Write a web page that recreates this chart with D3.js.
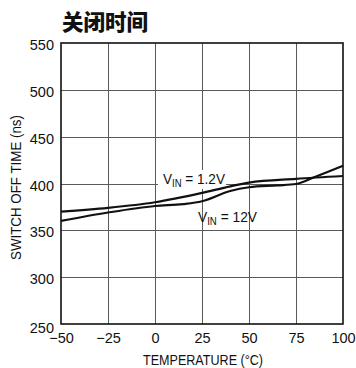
<!DOCTYPE html>
<html>
<head>
<meta charset="utf-8">
<script src="https://cdn.jsdelivr.net/npm/d3@7"></script>
<style>
  html, body { margin: 0; padding: 0; background: #fff; }
  svg { display: block; }
  text { font-family: "Liberation Sans", Arial, sans-serif; fill: #111; }
</style>
</head>
<body>
<script>
// Switch-off time versus temperature for two input voltages
const xTicks = [-50, -25, 0, 25, 50, 75, 100];
const yTicks = [250, 300, 350, 400, 450, 500, 550];

const temp12 = [-50, -25, 0, 25, 40, 50, 75, 100];
const vin12 = [370, 374, 380, 390, 397, 401, 405, 408];                // VIN = 1.2V

const temp120 = [-50, -25, 0, 15, 25, 40, 50, 65, 75, 85, 100];
const vin120 = [360, 369, 376, 378, 381, 392, 396, 398, 399.5, 407, 419]; // VIN = 12V

const W = 356, H = 368;
const m = { left: 61, right: 13, top: 43, bottom: 44 };

const svg = d3.select("body").append("svg").attr("width", W).attr("height", H);

const x = d3.scaleLinear().domain([-50, 100]).range([m.left, W - m.right]);
const y = d3.scaleLinear().domain([250, 550]).range([H - m.bottom, m.top]);

// title
svg.append("text")
  .attr("x", m.left + 1).attr("y", 30)
  .style("font-family", "'Noto Sans CJK SC', sans-serif")
  .style("font-weight", 900)
  .style("font-size", "21.5px")
  .text("关闭时间");

// grid
const grid = svg.append("g").attr("stroke", "#5a5a5a").attr("stroke-width", 1);
grid.selectAll("line.v").data(xTicks.slice(1, -1)).join("line")
  .attr("x1", d => Math.round(x(d)) + 0.5).attr("x2", d => Math.round(x(d)) + 0.5)
  .attr("y1", y(250)).attr("y2", y(550));
grid.selectAll("line.h").data(yTicks.slice(1, -1)).join("line")
  .attr("y1", d => Math.round(y(d)) + 0.5).attr("y2", d => Math.round(y(d)) + 0.5)
  .attr("x1", x(-50)).attr("x2", x(100));

// axes tick labels via d3 axes
const xAxis = svg.append("g")
  .attr("transform", `translate(0,${y(250)})`)
  .call(d3.axisBottom(x).tickValues(xTicks).tickSize(0).tickPadding(9)
    .tickFormat(d => d < 0 ? "\u2212" + Math.abs(d) : d));
const yAxis = svg.append("g")
  .attr("transform", `translate(${x(-50)},0)`)
  .call(d3.axisLeft(y).tickValues(yTicks).tickSize(0).tickPadding(7));
[xAxis, yAxis].forEach(g => {
  g.select(".domain").remove();
  g.selectAll("text").style("font-size", "14.5px")
    .style("font-family", "'Liberation Sans', Arial, sans-serif").attr("fill", "#111");
});
yAxis.selectAll("text").attr("dy", "0.45em");
yAxis.selectAll(".tick").filter(d => d === 250).select("text").attr("dy", "0.6em");

// curve labels (backgrounds sit under the curves, over the grid)
const labelLayer = svg.append("g");
function vinLabel(px, py, val, len, bg) {
  const g = labelLayer.append("g");
  const t = g.append("text").attr("x", px).attr("y", py).style("font-size", "15px")
    .attr("textLength", len).attr("lengthAdjust", "spacingAndGlyphs");
  t.append("tspan").text("V");
  t.append("tspan").attr("dy", 3).style("font-size", "10.5px").text("IN");
  t.append("tspan").attr("dy", -3).text(" = " + val);
  if (bg) {
    const b = t.node().getBBox();
    g.insert("rect", "text").attr("x", b.x - 5).attr("y", b.y)
      .attr("width", b.width + 6).attr("height", b.height).attr("fill", "#fff");
  }
}
vinLabel(163, 184, "1.2V", 62, true);
vinLabel(198, 222, "12V", 59, false);

// frame
svg.append("rect")
  .attr("x", x(-50)).attr("y", y(550))
  .attr("width", x(100) - x(-50)).attr("height", y(250) - y(550))
  .attr("fill", "none").attr("stroke", "#111").attr("stroke-width", 1.6);

// curves
const line = d3.line().x(d => x(d[0])).y(d => y(d[1])).curve(d3.curveMonotoneX);
[[temp12, vin12], [temp120, vin120]].forEach(([t, v]) => {
  svg.append("path")
    .datum(t.map((d, i) => [d, v[i]]))
    .attr("d", line)
    .attr("fill", "none").attr("stroke", "#111").attr("stroke-width", 2.2);
});

// axis titles
svg.append("text")
  .attr("x", 143).attr("y", 365)
  .style("font-size", "15px")
  .attr("textLength", 120).attr("lengthAdjust", "spacingAndGlyphs")
  .text("TEMPERATURE (°C)");
svg.append("text")
  .attr("transform", `translate(21,260) rotate(-90)`)
  .style("font-size", "14.5px")
  .attr("textLength", 145).attr("lengthAdjust", "spacingAndGlyphs")
  .text("SWITCH OFF TIME (ns)");
</script>
</body>
</html>
